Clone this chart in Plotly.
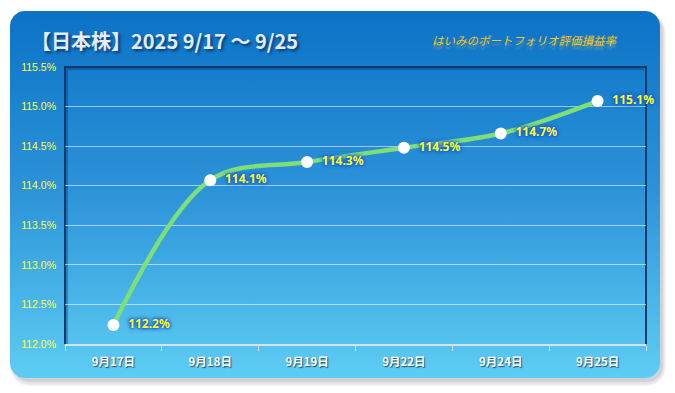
import numpy as np
import plotly.graph_objects as go

# ---- data ----
categories = ["9月17日", "9月18日", "9月19日", "9月22日", "9月24日", "9月25日"]
values = [112.24, 114.07, 114.30, 114.48, 114.66, 115.07]
y_ticks = [112.0, 112.5, 113.0, 113.5, 114.0, 114.5, 115.0, 115.5]
title_text = "【日本株】2025 9/17 〜 9/25"
subtitle_text = "はいみのポートフォリオ評価損益率"

W, H = 675, 393


def rounded_rect(x0, y0, x1, y1, r, n=12):
    xs, ys = [], []
    corners = [
        (x1 - r, y0 + r, -90, 0),
        (x1 - r, y1 - r, 0, 90),
        (x0 + r, y1 - r, 90, 180),
        (x0 + r, y0 + r, 180, 270),
    ]
    for cx, cy, a0, a1 in corners:
        for a in np.linspace(np.radians(a0), np.radians(a1), n):
            xs.append(cx + r * np.cos(a))
            ys.append(cy + r * np.sin(a))
    xs.append(xs[0])
    ys.append(ys[0])
    return xs, ys


fig = go.Figure()

# shadow layers
for dx, dy, grow, alpha in [(3, 5, 3, 0.06), (3, 5, 1.5, 0.08), (3, 4, 0, 0.12)]:
    sx, sy = rounded_rect(10 + dx - grow, 11 + dy - grow, 660 + dx + grow, 378 + dy + grow, 16 + grow)
    fig.add_trace(go.Scatter(x=sx, y=sy, mode="lines", fill="toself",
                             fillcolor=f"rgba(60,70,90,{alpha})", line=dict(width=0),
                             hoverinfo="skip", showlegend=False, xaxis="x", yaxis="y"))

bx, by = rounded_rect(10, 11, 660, 378, 15)
fig.add_trace(go.Scatter(
    x=bx, y=by, mode="lines", fill="toself", line=dict(width=0),
    fillgradient=dict(type="vertical", colorscale=[[0, "#5ecdf3"], [0.5, "#2d94d9"], [1, "#0c72c6"]]),
    hoverinfo="skip", showlegend=False, xaxis="x", yaxis="y"))

# plot-area frame (inner shadow + dark border) drawn as traces on the pixel axes
px0, px1, py_top, py_bot = 65, 646, 67, 344
fig.add_trace(go.Scatter(
    x=[px0 + 2, px0 + 2, px1 - 2], y=[py_bot, py_top + 2, py_top + 2], mode="lines",
    line=dict(color="rgba(10,40,90,0.35)", width=2), hoverinfo="skip", showlegend=False,
    xaxis="x", yaxis="y"))
fig.add_trace(go.Scatter(
    x=[px0, px0, px1, px1], y=[py_bot, py_top, py_top, py_bot], mode="lines",
    line=dict(color="#0b3a6c", width=2), hoverinfo="skip", showlegend=False,
    xaxis="x", yaxis="y"))

# main data
fig.add_trace(go.Scatter(
    x=categories, y=values, mode="lines+markers+text",
    line=dict(color="#7ede78", width=4.5, shape="spline", smoothing=1.0),
    marker=dict(color="white", size=12),
    text=[f"{v:.1f}%" for v in values],
    texttemplate="  %{text}",
    textposition="middle right",
    textfont=dict(family="Noto Sans, DejaVu Sans, sans-serif", size=12, color="#ffff1a", weight="bold",
                  shadow="0px 0px 4px #1a5fd8, 0px 0px 4px #1a5fd8, 0px 0px 3px #1a5fd8, 0px 0px 2px #1a5fd8"),
    showlegend=False, xaxis="x2", yaxis="y2", cliponaxis=False))

fig.update_layout(
    width=W, height=H,
    margin=dict(l=0, r=0, t=0, b=0, pad=0, autoexpand=False),
    paper_bgcolor="white", plot_bgcolor="rgba(0,0,0,0)",
    xaxis=dict(domain=[0, 1], range=[0, W], autorange=False, visible=False,
               fixedrange=True, automargin=False),
    yaxis=dict(domain=[0, 1], range=[H, 0], autorange=False, visible=False,
               fixedrange=True, automargin=False),
    xaxis2=dict(domain=[px0 / W, px1 / W], anchor="y2", type="category",
                range=[-0.5, len(categories) - 0.5], autorange=False, automargin=False,
                showgrid=False, showline=True, linecolor="#d8e0e8", linewidth=2,
                ticks="outside", tickson="boundaries", ticklen=5, tickcolor="#d8e0e8",
                tickfont=dict(family="Noto Sans CJK JP", size=11.5, color="white", weight="bold",
                              shadow="1px 1px 1px rgba(0,0,0,0.6)"),
                ticklabelstandoff=6, zeroline=False),
    yaxis2=dict(domain=[(H - py_bot) / H, (H - py_top) / H], anchor="x2", automargin=False,
                range=[112.0, 115.5], autorange=False, tickvals=y_ticks,
                ticktext=[f"{t:.1f}%" for t in y_ticks],
                showgrid=True, gridcolor="rgba(255,255,255,0.55)", gridwidth=1,
                showline=False, ticks="", zeroline=False,
                tickfont=dict(family="Liberation Sans, Arial, sans-serif", size=10.5, color="#ffff33"),
                ticklabelstandoff=8),
    annotations=[
        dict(text=title_text, xref="paper", yref="paper", x=29 / W, y=(H - 41) / H,
             xanchor="left", yanchor="middle", showarrow=False,
             font=dict(family="Noto Sans CJK JP", size=20, color="#e4ecf6", weight="bold",
                       shadow="2px 2px 3px rgba(0,0,40,0.55)")),
        dict(text=subtitle_text, xref="paper", yref="paper", x=430 / W, y=(H - 40) / H,
             xanchor="left", yanchor="middle", showarrow=False,
             font=dict(family="Noto Sans CJK JP", size=11.5, color="#f7c61a", style="italic",
                       shadow="0px 4px 2px rgba(240,200,60,0.35)")),
    ],
)

fig.write_html("out.html")
